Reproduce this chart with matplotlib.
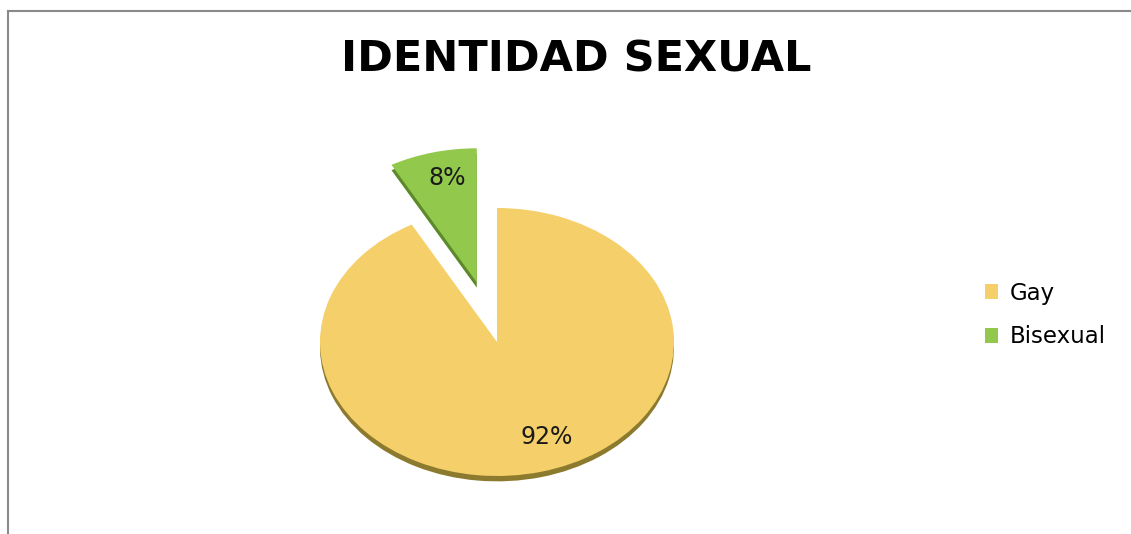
import matplotlib.pyplot as plt
from matplotlib.lines import Line2D

# datos de la encuesta
categorias = ['Gay', 'Bisexual']
porcentajes = [92, 8]
colores = ['#F5D06A', '#92C84C']
colores_borde = ['#8C7A2E', '#5C8A2A']

W, H = 1131, 534
fig = plt.figure(figsize=(W / 100, H / 100), dpi=100)

# ejes en pixeles: centro del pastel (497, 342), radios 177 x 134
cx, cy, rx, ry = 497, 342, 177, 134
left, right, top, bottom = 297, 697, 130, 500
ax = fig.add_axes([left / W, 1 - bottom / H, (right - left) / W, (bottom - top) / H])

explode = [0, 0.46]

# sombra inferior para dar grosor al pastel
ax.pie(porcentajes, explode=explode, colors=colores_borde, startangle=90,
       counterclock=False, center=(0, -0.04), radius=1)

wedges, textos, autotextos = ax.pie(
    porcentajes, explode=explode, colors=colores, startangle=90,
    counterclock=False, autopct='%1.0f%%', pctdistance=0.77, radius=1,
    textprops={'fontsize': 17, 'color': '#1a1a1a', 'family': 'DejaVu Sans'})

# etiquetas de porcentaje un poco desplazadas, como en Excel
autotextos[0].set_position((0.282, -0.71))
autotextos[1].set_position((-0.282, 1.224))

ax.set_aspect('auto')
ax.set_xlim(-(cx - left) / rx, (right - cx) / rx)
ax.set_ylim(-(bottom - cy) / ry, (cy - top) / ry)
ax.axis('off')

fig.text(576 / W, 1 - 59 / H, 'IDENTIDAD SEXUAL', ha='center', va='center',
         fontsize=31, fontweight='bold', family='DejaVu Sans', color='#000000')

leg = fig.legend(wedges, categorias, loc='center left',
                 bbox_to_anchor=(964 / W, 1 - 315 / H), frameon=False,
                 handlelength=0.6, handleheight=0.6, labelspacing=0.9,
                 handletextpad=0.5, prop={'family': 'DejaVu Sans', 'size': 16.5})

# marco del grafico
fig.add_artist(Line2D([8 / W, 1], [1 - 11 / H, 1 - 11 / H], color='#8a8a8a', lw=1.5))
fig.add_artist(Line2D([8 / W, 8 / W], [0, 1 - 11 / H], color='#8a8a8a', lw=1.5))

fig.savefig('out.png', dpi=100)
